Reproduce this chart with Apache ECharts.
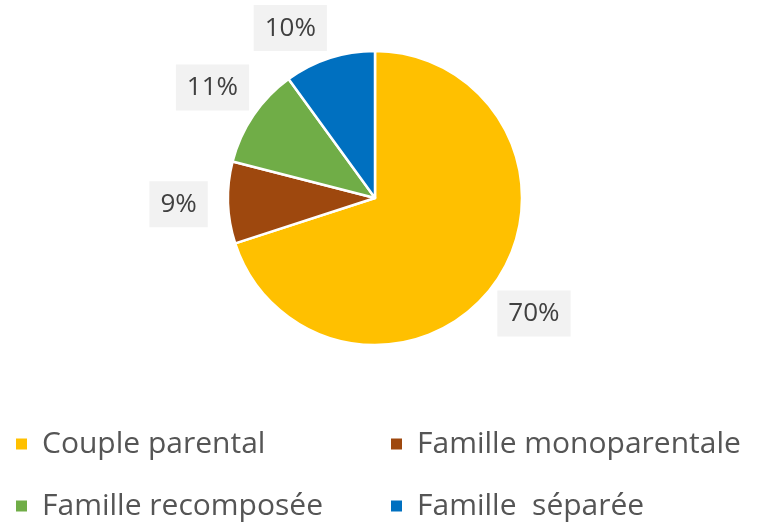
<!DOCTYPE html>
<html>
<head>
<meta charset="utf-8">
<script src="https://cdn.jsdelivr.net/npm/echarts@6/dist/echarts.min.js"></script>
<style>html,body{margin:0;padding:0;background:#fff;}#c{width:757px;height:522px;}</style>
</head>
<body>
<div id="c"></div>
<script>
const categories = ['Couple parental', 'Famille monoparentale', 'Famille recomposée', 'Famille  séparée'];
const values = [70, 9, 11, 10];
const colors = ['#FFC000', '#9E480E', '#70AD47', '#0070C0'];

const chart = echarts.init(document.getElementById('c'), null, {renderer: 'canvas'});
const FONT = '"Open Sans", "Liberation Sans", sans-serif';
const pieCenter = [375, 198];

const mainData = categories.map((n, i) => ({name: n, value: values[i], itemStyle: {color: colors[i]}}));
const labelData = categories.map((n, i) => {
  const d = {name: n, value: values[i]};
  if (i === 3) d.label = {offset: [-24, 17]};
  return d;
});

// legend grid: column x and row y for each category
const legendPos = [[14, 426], [389, 426], [14, 488], [389, 488]];
const legends = categories.map((n, i) => ({
  data: [n],
  left: legendPos[i][0], top: legendPos[i][1],
  padding: 0,
  itemWidth: 13, itemHeight: 13, icon: 'rect',
  textStyle: {fontFamily: FONT, fontSize: 30, color: '#555555', lineHeight: 36, padding: [0, 0, 0, 9]},
  selectedMode: false
}));

chart.setOption({
  animation: false,
  backgroundColor: '#ffffff',
  legend: legends,
  series: [
    {
      type: 'pie',
      center: pieCenter,
      radius: [0, 147],
      startAngle: 90,
      clockwise: true,
      data: mainData,
      itemStyle: {borderColor: '#ffffff', borderWidth: 2.5},
      label: {show: false},
      labelLine: {show: false},
      emphasis: {disabled: true}
    },
    {
      type: 'pie',
      center: pieCenter,
      radius: [147, 240],
      startAngle: 90,
      clockwise: true,
      silent: true,
      data: labelData,
      itemStyle: {color: 'rgba(0,0,0,0)'},
      label: {
        show: true,
        position: 'inside',
        formatter: p => p.value + '%',
        fontFamily: FONT,
        fontSize: 26,
        color: '#404040',
        backgroundColor: '#f2f2f2',
        padding: [11, 11, 9, 11]
      },
      labelLine: {show: false},
      emphasis: {disabled: true}
    }
  ]
});
</script>
</body>
</html>
